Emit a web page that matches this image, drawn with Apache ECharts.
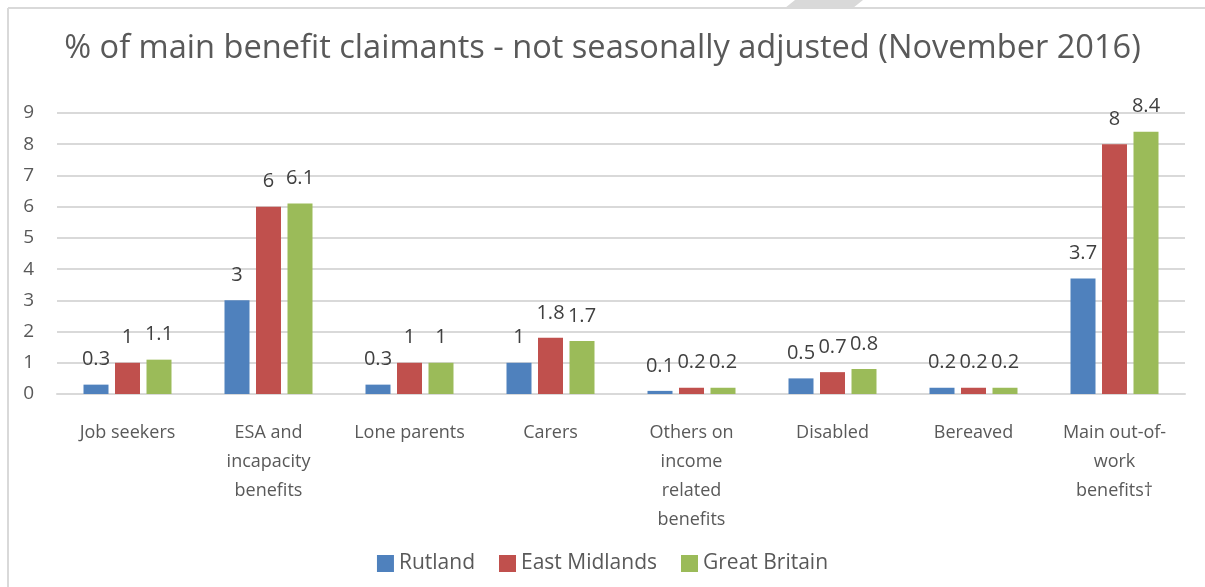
<!DOCTYPE html>
<html>
<head>
<meta charset="utf-8">
<script src="https://cdn.jsdelivr.net/npm/echarts@6/dist/echarts.min.js"></script>
<style>
html,body{margin:0;padding:0;background:#fff;}
#c{width:1205px;height:587px;}
</style>
</head>
<body>
<div id="c"></div>
<script>
const categories = ['Job seekers','ESA and incapacity benefits','Lone parents','Carers','Others on income related benefits','Disabled','Bereaved','Main out-of-work benefits†'];
const categoryLabels = ['Job seekers','ESA and\nincapacity\nbenefits','Lone parents','Carers','Others on\nincome\nrelated\nbenefits','Disabled','Bereaved','Main out-of-\nwork\nbenefits†'];
const seriesNames = ['Rutland','East Midlands','Great Britain'];
const rutland = [0.3, 3, 0.3, 1, 0.1, 0.5, 0.2, 3.7];
const eastMidlands = [1, 6, 1, 1.8, 0.2, 0.7, 0.2, 8];
const greatBritain = [1.1, 6.1, 1, 1.7, 0.2, 0.8, 0.2, 8.4];
const yTicks = [0,1,2,3,4,5,6,7,8,9];

const colors = ['#4F81BD','#C0504D','#9BBB59'];
const font = '"Open Sans", sans-serif';
const chart = echarts.init(document.getElementById('c'));

function barSeries(name, data, color){
  return {
    name, type:'bar', data,
    barWidth:25, barGap:'26%',
    itemStyle:{color},
    label:{show:true, position:'top', distance:15, color:'#404040', fontSize:20, fontFamily:font},
    emphasis:{disabled:true}
  };
}

chart.setOption({
  animation:false,
  color:colors,
  title:{
    text:'% of main benefit claimants - not seasonally adjusted (November 2016)',
    left:'center', top:27,
    textStyle:{color:'#595959', fontSize:32.6, fontWeight:'normal', fontFamily:font}
  },
  legend:{
    bottom:8, left:'center',
    icon:'rect', itemWidth:17, itemHeight:17, itemGap:24,
    textStyle:{color:'#595959', fontSize:21, fontFamily:font},
    data:seriesNames
  },
  grid:{left:57, right:20, top:113, bottom:193, containLabel:false},
  xAxis:{
    type:'category', data:categories,
    axisLine:{lineStyle:{color:'#d9d9d9', width:2}},
    axisTick:{show:false},
    axisLabel:{
      interval:0, margin:24, color:'#595959', fontSize:18, fontFamily:font, lineHeight:29,
      formatter:(v, i)=>categoryLabels[i]
    }
  },
  yAxis:{
    type:'value', min:yTicks[0], max:yTicks[yTicks.length-1], interval:1,
    axisLine:{show:false}, axisTick:{show:false},
    splitLine:{lineStyle:{color:'#d9d9d9', width:2}},
    axisLabel:{margin:23, color:'#595959', fontSize:19, fontFamily:font}
  },
  graphic:[
    {type:'line', shape:{x1:8,y1:8,x2:1205,y2:8}, style:{stroke:'#d9d9d9', lineWidth:2}, silent:true},
    {type:'line', shape:{x1:8,y1:8,x2:8,y2:587}, style:{stroke:'#d9d9d9', lineWidth:2}, silent:true},
    {type:'polygon', shape:{points:[[795,0],[863,0],[853,8],[785,8]]}, style:{fill:'#d9d9d9'}, silent:true}
  ],
  series:[
    barSeries(seriesNames[0], rutland, colors[0]),
    barSeries(seriesNames[1], eastMidlands, colors[1]),
    barSeries(seriesNames[2], greatBritain, colors[2])
  ]
});
</script>
</body>
</html>
